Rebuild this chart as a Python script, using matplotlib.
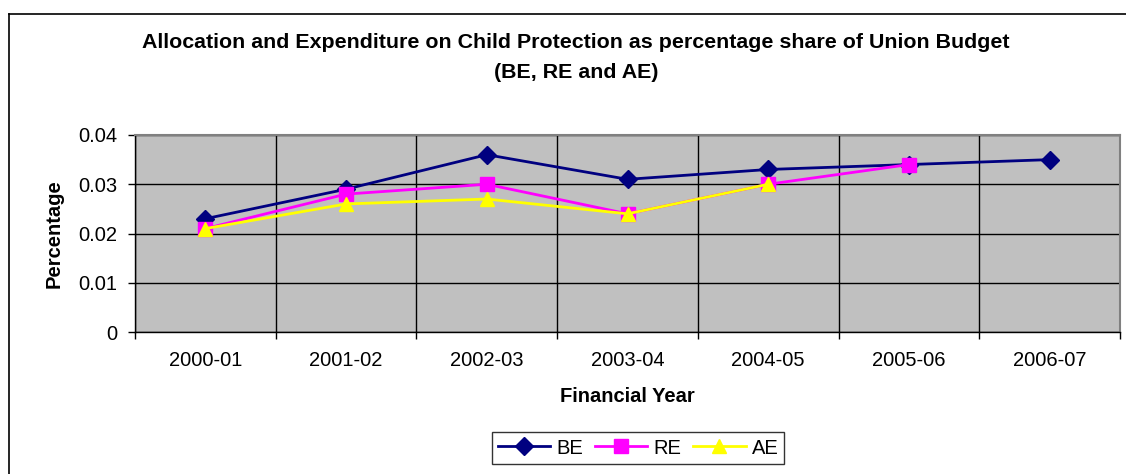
import matplotlib.pyplot as plt
import numpy as np
from matplotlib.lines import Line2D

plt.rcParams['font.family'] = ['Liberation Sans', 'DejaVu Sans']

years = ['2000-01', '2001-02', '2002-03', '2003-04', '2004-05', '2005-06', '2006-07']
be = [0.023, 0.029, 0.036, 0.031, 0.033, 0.034, 0.035]
re = [0.021, 0.028, 0.030, 0.024, 0.030, 0.034, np.nan]
ae = [0.021, 0.026, 0.027, 0.024, 0.030, np.nan, np.nan]

W, H = 1126, 474
fig = plt.figure(figsize=(W / 100, H / 100), dpi=100)

# outer chart border (top and left only visible)
fig.add_artist(Line2D([9 / W, 1], [1 - 14 / H, 1 - 14 / H], color='black', lw=1.2))
fig.add_artist(Line2D([9 / W, 9 / W], [0, 1 - 14 / H], color='black', lw=1.2))

ax = fig.add_axes([135 / W, (H - 332) / H, 985 / W, 197 / H])
ax.set_facecolor('#c0c0c0')

x = np.arange(len(years))
ax.plot(x, be, color='#000080', lw=2, marker='D', markersize=9, label='BE')
ax.plot(x, re, color='#ff00ff', lw=2, marker='s', markersize=10.5, label='RE')
ax.plot(x, ae, color='#ffff00', lw=2, marker='^', markersize=10.5, label='AE')

ax.set_xlim(-0.5, len(years) - 0.5)
ax.set_ylim(0, 0.04)
ax.set_yticks([0, 0.01, 0.02, 0.03, 0.04])
ax.set_yticklabels(['0', '0.01', '0.02', '0.03', '0.04'])
ax.set_xticks(x)
ax.set_xticklabels(years)
ax.set_xticks(np.arange(len(years) + 1) - 0.5, minor=True)
ax.tick_params(axis='x', which='major', length=0, pad=14, labelsize=14.5)
ax.tick_params(axis='x', which='minor', length=5, width=1, direction='out')
ax.tick_params(axis='y', length=5, width=1, direction='out', pad=8, labelsize=14.5)

ax.grid(True, axis='y', which='major', color='black', lw=1)
ax.grid(True, axis='x', which='minor', color='black', lw=1)
ax.set_axisbelow(True)

for s in ['top', 'right']:
    ax.spines[s].set_color('#808080')
    ax.spines[s].set_linewidth(1.5)
for s in ['left', 'bottom']:
    ax.spines[s].set_color('black')
    ax.spines[s].set_linewidth(1)

ax.set_xlabel('Financial Year', fontsize=14.5, fontweight='bold', labelpad=12)
ax.set_ylabel('Percentage', fontsize=14.5, fontweight='bold', labelpad=10)

fig.text(576 / W, 1 - 43 / H, 'Allocation and Expenditure on Child Protection as percentage share of Union Budget',
         ha='center', va='center', fontsize=15.4, fontweight='bold')
fig.text(576 / W, 1 - 72 / H, '(BE, RE and AE)', ha='center', va='center', fontsize=15.4, fontweight='bold')

leg = fig.legend(loc='center', bbox_to_anchor=(638 / W, 1 - 448 / H), ncol=3, fontsize=14.5,
                 frameon=True, fancybox=False, edgecolor='black', handlelength=2.6,
                 columnspacing=0.6, handletextpad=0.3, borderpad=0.3)
leg.get_frame().set_linewidth(1)

plt.savefig('out.png', dpi=100)
